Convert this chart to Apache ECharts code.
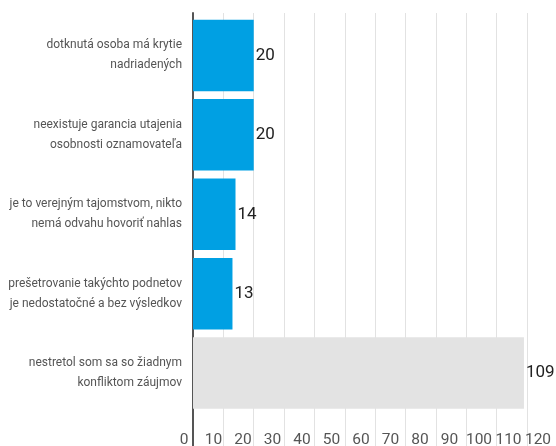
<!DOCTYPE html>
<html><head><meta charset="utf-8">
<script src="https://cdn.jsdelivr.net/npm/echarts@6/dist/echarts.min.js"></script>
<style>html,body{margin:0;padding:0;background:#fff}#c{width:556px;height:446px}</style>
</head><body><div id="c"></div>
<script>
var categories = [
  "dotknutá osoba má krytie\nnadriadených",
  "neexistuje garancia utajenia\nosobnosti oznamovateľa",
  "je to verejným tajomstvom, nikto\nnemá odvahu hovoriť nahlas",
  "prešetrovanie takýchto podnetov\nje nedostatočné a bez výsledkov",
  "nestretol som sa so žiadnym\nkonfliktom záujmov"
];
var values = [20, 20, 14, 13, 109];
var barColors = ["#00a0e3", "#00a0e3", "#00a0e3", "#00a0e3", "#e3e3e3"];
var tickValues = [0, 10, 20, 30, 40, 50, 60, 70, 80, 90, 100, 110, 120];

var chart = echarts.init(document.getElementById('c'));
chart.setOption({
  animation: false,
  grid: [
    {left: 193, top: 13, width: 334, bottom: 0, containLabel: false, outerBoundsMode: 'none'},
    {left: 193, top: 15.75, width: 334, height: 397, containLabel: false, outerBoundsMode: 'none'},
    {left: 184, right: 18, top: 300, height: 120, containLabel: false, outerBoundsMode: 'none'}
  ],
  xAxis: [
    {gridIndex: 0, type: 'value', min: 0, max: 110, interval: 10,
     axisLabel: {show: false}, axisLine: {show: false}, axisTick: {show: false},
     splitLine: {show: true, lineStyle: {color: '#e2e2e2', width: 1}}},
    {gridIndex: 1, type: 'value', min: 0, max: 110, interval: 10, show: false},
    {gridIndex: 2, type: 'value', min: 0, max: 120, interval: 10,
     axisLine: {show: false}, axisTick: {show: false}, splitLine: {show: false},
     axisLabel: {show: true, margin: 12, color: '#555', fontSize: 15.5, fontFamily: 'Roboto',
       showMinLabel: true, showMaxLabel: true, hideOverlap: false,
       formatter: function (v) { return tickValues.indexOf(v) >= 0 ? String(v) : ''; }}}
  ],
  yAxis: [
    {gridIndex: 0, type: 'value', min: 0, max: 1,
     axisLabel: {show: false}, axisTick: {show: false}, splitLine: {show: false},
     axisLine: {show: true, lineStyle: {color: '#555', width: 2}}},
    {gridIndex: 1, type: 'category', inverse: true, data: categories,
     axisLine: {show: false}, axisTick: {show: false},
     axisLabel: {margin: 11, color: '#555', fontSize: 12, lineHeight: 20, fontFamily: 'Roboto', align: 'right'}},
    {gridIndex: 2, type: 'value', show: false}
  ],
  series: [{
    type: 'bar', xAxisIndex: 1, yAxisIndex: 1,
    barCategoryGap: '10%',
    data: values.map(function (v, i) { return {value: v, itemStyle: {color: barColors[i]}}; }),
    label: {show: true, position: 'right', distance: 2, color: '#222', fontSize: 17, fontFamily: 'Roboto'}
  }]
});
</script></body></html>
